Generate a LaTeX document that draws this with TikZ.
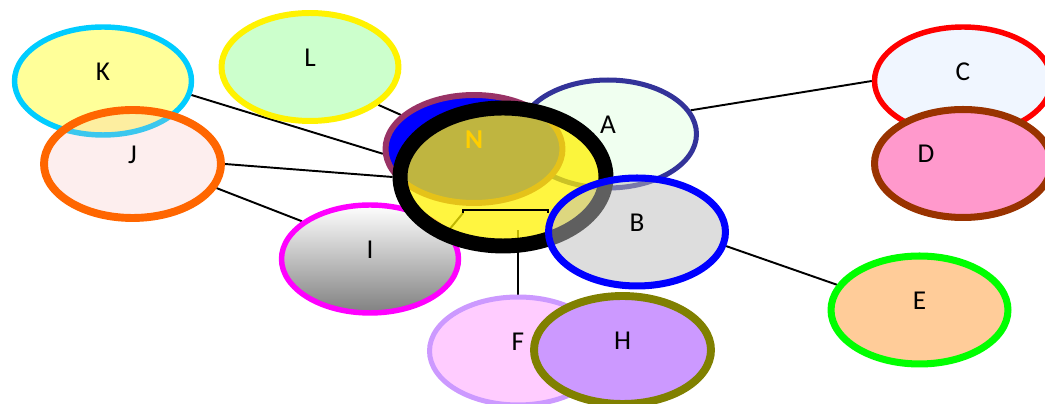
\documentclass[tikz,border=0pt]{standalone}
\usepackage{fontspec}
\setmainfont{Carlito}
\usetikzlibrary{shapes.geometric, backgrounds}

\definecolor{kedge}{RGB}{0,204,255}
\definecolor{kfill}{RGB}{255,255,153}
\definecolor{lfill}{RGB}{204,255,204}
\definecolor{jedge}{RGB}{255,102,0}
\definecolor{jfill}{RGB}{247,184,184}
\definecolor{cfill}{RGB}{240,246,255}
\definecolor{dedge}{RGB}{153,51,0}
\definecolor{dfill}{RGB}{255,153,204}
\definecolor{aedge}{RGB}{51,51,153}
\definecolor{afill}{RGB}{240,255,240}
\definecolor{iedge}{RGB}{255,0,255}
\definecolor{ibottom}{RGB}{128,128,128}
\definecolor{nedge}{RGB}{153,51,102}
\definecolor{bfill}{RGB}{188,188,188}
\definecolor{eedge}{RGB}{0,255,0}
\definecolor{efill}{RGB}{255,204,153}
\definecolor{fedge}{RGB}{204,153,255}
\definecolor{ffill}{RGB}{255,204,255}
\definecolor{hedge}{RGB}{128,128,0}
\definecolor{hfill}{RGB}{204,153,255}
\definecolor{ntext}{RGB}{255,100,0}

\begin{document}
\begin{tikzpicture}[x=0.02cm, y=-0.02cm,
  blob/.style={ellipse, draw, inner sep=0pt, minimum width=3.54cm, minimum height=2.16cm,
    text height=10pt, text depth=10.8pt, text opacity=1, font=\fontsize{15.5}{18}\selectfont},
  link/.style={line width=1.1pt}]
  \useasboundingbox (0,0) rectangle (1045,404);

  % left group
  \node[blob, draw=kedge, fill=kfill, line width=3.1pt] (K) at (103,81) {K};
  \node[blob, draw=jedge, fill=jfill, fill opacity=0.24, line width=4.5pt] (J) at (132.5,164) {J};
  \node[blob, draw=yellow, fill=lfill, line width=3.4pt] (L) at (310,67) {L};

  % right group
  \node[blob, draw=red, fill=cfill, line width=3.1pt] (C) at (963,81) {C};
  \node[blob, draw=dedge, fill=dfill, line width=4pt] (D) at (963,163.5) {D\kern1.48cm};

  % middle
  \node[blob, draw=aedge, fill=afill, line width=2.85pt] (A) at (608,134) {A};
  \node[blob, draw=iedge, top color=white, bottom color=ibottom, line width=3.1pt] (I) at (370,259) {I};
  \node[blob, draw=nedge, fill=blue, text=ntext, line width=3.4pt, font=\fontsize{15.5}{18}\selectfont\bfseries] (N) at (474,149) {N};
  \node[ellipse, draw=black, fill=yellow, fill opacity=0.75, inner sep=0pt,
    minimum width=4.12cm, minimum height=2.76cm, line width=8.5pt] (Y) at (503,177) {};
  \node[blob, draw=blue, fill=bfill, fill opacity=0.51, line width=4pt] (B) at (637,232) {B};
  \node[blob, draw=eedge, fill=efill, line width=4pt] (E) at (919.5,310) {E};

  % bottom pair
  \node[blob, draw=fedge, fill=ffill, line width=2.85pt] (F) at (518,351) {F};
  \node[blob, draw=hedge, fill=hfill, line width=4.5pt] (H) at (622.5,350) {H};

  \coordinate (Fend) at (518,230);
  \coordinate (brL) at (463,213);
  \coordinate (brR) at (548,213);

  % connectors behind the ellipses
  \begin{scope}[on background layer]
    \draw[link] (K.-9) -- (N.183);
    \draw[link] (J.east) -- (Y.west);
    \draw[link] (J.-16) -- (I.151);
    \draw[link] (L.-29) -- (N.155);
    \draw[link] (A.16) -- (C.west);
    \draw[link] (B.-9) -- (E.163);
    \draw[link] (F.north) -- (Fend);
    \draw[link] (I.20) -- (brL);
  \end{scope}

  \draw[link] (brL) -- ++(0,-3) -| (brR);
\end{tikzpicture}
\end{document}
